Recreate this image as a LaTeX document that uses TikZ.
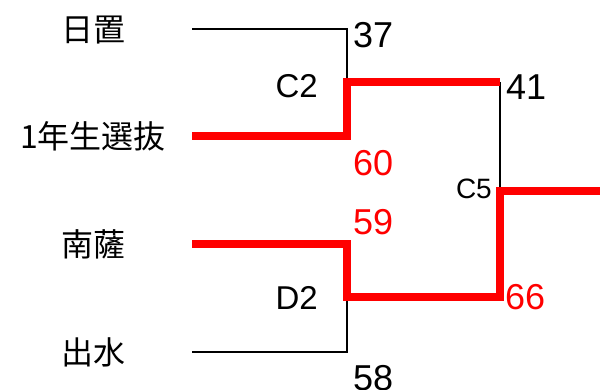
\documentclass[tikz,border=0pt]{standalone}
\usepackage{fontspec}
\setmainfont{Liberation Sans}
\newfontfamily\jpfont{Noto Sans CJK JP}
\begin{document}
\begin{tikzpicture}[x=1pt,y=-1pt,
  team/.style={font=\jpfont\fontsize{32}{34}\selectfont, inner sep=0pt},
  score/.style={font=\fontsize{36}{38}\selectfont, inner sep=0pt, anchor=west},
  win/.style={score, text=red},
  game/.style={font=\fontsize{33}{35}\selectfont, inner sep=0pt, anchor=east},
  small/.style={font=\fontsize{28}{30}\selectfont, inner sep=0pt, anchor=east},
  loss/.style={draw=black, line width=2.8pt},
  winl/.style={draw=red, line width=8pt, line join=miter}]
\useasboundingbox (0,0) rectangle (600,390);
\fill[white] (0,0) rectangle (600,390);
% teams
\node[team] (hioki) at (93,30) {日置};
\node[team] (sen) at (93,136) {1年生選抜};
\node[team] (nansatsu) at (93,244) {南薩};
\node[team] (izumi) at (93,352) {出水};
% junction coordinates
\coordinate (a0) at (192,29);
\coordinate (a1) at (347,29);
\coordinate (b0) at (192,136);
\coordinate (b1) at (347,136);
\coordinate (c2) at (347,82);
\coordinate (c2r) at (500,82);
\coordinate (d0) at (192,244);
\coordinate (d1) at (347,244);
\coordinate (d2) at (347,297);
\coordinate (d2r) at (500,297);
\coordinate (e0) at (192,352);
\coordinate (e1) at (347,352);
\coordinate (c5) at (500,191);
\coordinate (fin) at (600,191);
% losing lines
\draw[loss] (a0) -- (a1) -- (c2);
\draw[loss] (e0) -- (e1) -- (d2);
\draw[loss] (c2r) -- (c5);
% winning lines
\draw[winl] (b0) -- (b1) -- (c2) -- (c2r);
\draw[winl] (d0) -- (d1) -- (d2) -- (d2r) -- (c5) -- (fin);
% labels
\node[score] (s37) at (353,35) {37};
\node[win] (s60) at (353,163) {60};
\node[win] (s59) at (353,222) {59};
\node[score] (s58) at (353,378) {58};
\node[score] (s41) at (506,87) {41};
\node[win] (s66) at (505,297) {66};
\node[game] (gc2) at (318,86) {C2};
\node[game] (gd2) at (318,298) {D2};
\node[small] (gc5) at (492,189) {C5};
\end{tikzpicture}
\end{document}
